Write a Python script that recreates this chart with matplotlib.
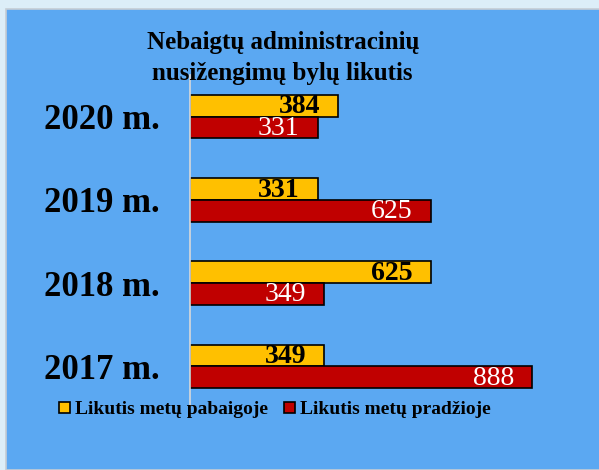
import numpy as np
import matplotlib.pyplot as plt
from matplotlib.patches import Rectangle

# Data
years = ['2017 m.', '2018 m.', '2019 m.', '2020 m.']
end_of_year = [349, 625, 331, 384]      # Likutis metų pabaigoje
start_of_year = [888, 349, 625, 331]    # Likutis metų pradžioje
series_names = ['Likutis metų pabaigoje', 'Likutis metų pradžioje']
title = 'Nebaigtų administracinių\nnusižengimų bylų likutis'

yellow = '#FFC000'
red = '#C00000'
bg = '#5BA8F2'

plt.rcParams['font.family'] = ['Liberation Serif', 'DejaVu Serif']

fig = plt.figure(figsize=(5.99, 4.70), dpi=100)
fig.patch.set_facecolor('#DCEEF8')
fig.patches.append(Rectangle((6 / 599, 0), 1, 1 - 9 / 470, transform=fig.transFigure,
                             facecolor=bg, edgecolor='#C5CDD5', linewidth=1.2, zorder=-1))

ax = fig.add_axes([190 / 599, 1 - 408 / 470, 1 - 190 / 599 - 19 / 599, 333 / 470])
ax.set_facecolor('none')
ax.set_zorder(2)

y = np.arange(len(years))
h = 0.26
b1 = ax.barh(y + h / 2, end_of_year, height=h, color=yellow, edgecolor='black', linewidth=1.2,
             label=series_names[0])
b2 = ax.barh(y - h / 2, start_of_year, height=h, color=red, edgecolor='black', linewidth=1.2,
             label=series_names[1])

# value labels, right-aligned just inside the bar end
for yy, v in zip(y + h / 2, end_of_year):
    ax.annotate(str(v), (v, yy), xytext=(-18, -1), textcoords='offset pixels',
                ha='right', va='center', fontsize=20, fontweight='bold', color='black')
for yy, v in zip(y - h / 2, start_of_year):
    ax.annotate(str(v), (v, yy), xytext=(-18, -1), textcoords='offset pixels',
                ha='right', va='center', fontsize=20, color='white')

ax.set_xlim(0, 1012)
ax.set_ylim(-0.5, 3.5)
ax.set_yticks(y)
ax.set_yticklabels(years, fontsize=25, fontweight='bold')
ax.tick_params(axis='y', length=0, pad=22)
ax.set_xticks([])
for s in ['top', 'right', 'bottom']:
    ax.spines[s].set_visible(False)
ax.spines['left'].set_color('#D9D9D9')
ax.spines['left'].set_linewidth(1.2)

fig.text(0.472, 1 - 58 / 470, title, ha='center', va='center', fontsize=18,
         fontweight='bold', linespacing=1.4)

fig.legend(handles=[b1, b2], loc='center', bbox_to_anchor=(275 / 599, 1 - 410 / 470), ncol=2,
           frameon=False, prop={'size': 14, 'weight': 'bold'}, handlelength=0.55, handleheight=0.55,
           handletextpad=0.3, columnspacing=0.8)

fig.savefig('out.png', dpi=100, facecolor=fig.get_facecolor())
